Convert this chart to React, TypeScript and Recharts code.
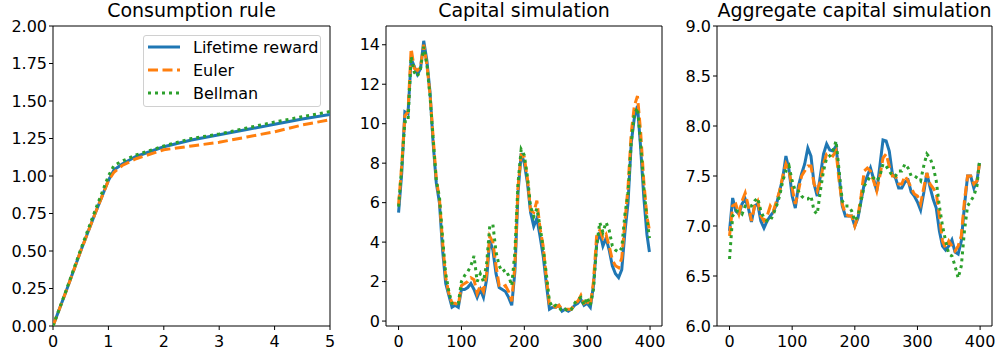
import React from "react";
import { LineChart, Line, XAxis, YAxis, ReferenceArea, Legend } from "recharts";

const FONT = '"DejaVu Sans", sans-serif';
const BLUE = "#1f77b4";
const ORANGE = "#ff7f0e";
const GREEN = "#2ca02c";

// Panel 1: consumption rule
const consX = [0, 0.25, 0.5, 0.75, 1.0, 1.1, 1.25, 1.5, 2, 2.5, 3, 3.5, 4, 4.5, 5];
const consLifetime = [0, 0.245, 0.5, 0.74, 0.97, 1.04, 1.08, 1.13, 1.195, 1.24, 1.275, 1.31, 1.345, 1.38, 1.41];
const consEuler = [0, 0.245, 0.5, 0.74, 0.97, 1.025, 1.07, 1.115, 1.175, 1.2, 1.225, 1.26, 1.295, 1.34, 1.375];
const consBellman = [0, 0.25, 0.51, 0.76, 1.0, 1.07, 1.1, 1.14, 1.2, 1.25, 1.28, 1.32, 1.36, 1.395, 1.43];

// Panels 2 and 3: simulation time steps
const simT = [
  0, 5, 10, 15, 20, 25, 30, 35, 40, 45, 50, 55, 60, 65, 70, 75, 80, 85, 90, 95,
  100, 105, 110, 115, 120, 125, 130, 135, 140, 145, 150, 155, 160, 165, 170, 175, 180, 185, 190, 195,
  200, 205, 210, 215, 220, 225, 230, 235, 240, 245, 250, 255, 260, 265, 270, 275, 280, 285, 290, 295,
  300, 305, 310, 315, 320, 325, 330, 335, 340, 345, 350, 355, 360, 365, 370, 375, 380, 385, 390, 395, 399,
];

const capLifetime = [
  5.5, 7.5, 10.6, 10.5, 13.3, 12.9, 12.5, 12.8, 14.2, 13.2, 11.6, 9.0, 7.0, 6.0, 3.6, 1.9, 1.3, 0.7, 0.8, 0.7,
  1.6, 1.6, 1.7, 1.9, 1.6, 1.2, 1.6, 1.2, 2.1, 4.1, 3.6, 2.4, 1.7, 1.6, 1.5, 1.2, 0.8, 2.5, 6.5, 8.5,
  8.0, 7.0, 5.5, 4.8, 5.2, 4.3, 3.3, 1.9, 0.6, 0.7, 0.7, 0.8, 0.5, 0.6, 0.5, 0.6, 0.8, 0.9, 1.1, 0.8,
  0.9, 0.7, 1.8, 3.9, 4.5, 3.8, 4.2, 3.6, 2.8, 2.4, 2.2, 2.6, 4.5, 6.0, 9.0, 10.3, 10.9, 8.8, 6.3, 4.4, 3.5,
];
const capEuler = [
  5.9, 7.9, 10.4, 10.6, 13.8, 12.8, 12.7, 12.9, 14.0, 13.0, 11.5, 9.3, 7.2, 6.2, 4.0, 2.2, 1.4, 0.9, 0.9, 0.8,
  1.8, 1.9, 2.0, 2.2, 2.1, 1.4, 1.8, 1.5, 2.4, 4.3, 4.0, 2.8, 1.8, 1.7, 1.8, 1.5, 1.0, 2.8, 6.8, 8.4,
  8.3, 7.2, 5.6, 5.5, 6.1, 4.7, 3.8, 2.2, 0.8, 0.8, 0.7, 0.8, 0.6, 0.6, 0.6, 0.6, 0.9, 1.0, 1.3, 0.9,
  1.0, 0.8, 2.0, 4.3, 4.6, 4.2, 4.4, 3.8, 3.1, 2.8, 2.7, 3.2, 5.0, 6.8, 9.5, 10.9, 11.4, 9.6, 7.1, 5.3, 4.6,
];
const capBellman = [
  5.8, 7.8, 10.1, 10.1, 13.4, 12.6, 12.4, 12.8, 13.9, 13.0, 11.4, 9.2, 7.1, 6.3, 4.2, 2.4, 1.5, 0.9, 0.9, 0.9,
  2.0, 2.3, 2.5, 2.8, 3.3, 2.0, 2.4, 2.0, 2.9, 4.8, 4.9, 3.5, 2.8, 2.5, 2.6, 2.3, 1.8, 3.5, 7.0, 8.7,
  8.4, 7.3, 5.8, 5.3, 5.7, 4.8, 3.7, 2.4, 1.0, 0.7, 0.8, 0.7, 0.5, 0.6, 0.5, 0.6, 0.9, 1.1, 1.2, 0.8,
  1.2, 0.8, 1.6, 3.8, 5.0, 4.5, 5.0, 4.6, 3.8, 3.6, 3.5, 3.7, 5.4, 6.5, 9.0, 10.5, 10.8, 9.0, 6.8, 5.2, 4.2,
];

const aggLifetime = [
  6.95, 7.28, 7.15, 7.12, 7.22, 7.27, 7.18, 7.04, 7.2, 7.22, 7.05, 6.98, 7.05, 7.1, 7.14, 7.22, 7.35, 7.48, 7.7, 7.56,
  7.3, 7.18, 7.4, 7.52, 7.62, 7.78, 7.7, 7.42, 7.3, 7.5, 7.72, 7.82, 7.76, 7.75, 7.8, 7.5, 7.2, 7.1, 7.1, 7.1,
  7.0, 7.08, 7.25, 7.42, 7.5, 7.58, 7.47, 7.35, 7.6, 7.86, 7.85, 7.75, 7.52, 7.48, 7.38, 7.38, 7.44, 7.46, 7.34, 7.3,
  7.24, 7.16, 7.33, 7.53, 7.39, 7.27, 7.18, 6.95, 6.8, 6.76, 6.8, 6.86, 6.74, 6.72, 6.85, 7.2, 7.5, 7.5, 7.38, 7.45, 7.63,
];
const aggEuler = [
  6.9, 7.2, 7.22, 7.12, 7.25, 7.33, 7.2, 7.05, 7.2, 7.25, 7.1, 7.05, 7.1, 7.2, 7.15, 7.25, 7.35, 7.5, 7.62, 7.55,
  7.38, 7.22, 7.35, 7.5, 7.55, 7.6, 7.6, 7.42, 7.35, 7.45, 7.62, 7.72, 7.72, 7.7, 7.75, 7.45, 7.22, 7.12, 7.1, 7.1,
  7.0, 7.1, 7.3, 7.55, 7.58, 7.55, 7.45, 7.35, 7.5, 7.68, 7.72, 7.6, 7.5, 7.5, 7.42, 7.42, 7.5, 7.45, 7.38, 7.32,
  7.3, 7.22, 7.38, 7.53, 7.42, 7.38, 7.33, 7.1, 6.85, 6.78, 6.85, 6.8, 6.75, 6.8, 6.9, 7.25, 7.5, 7.5, 7.42, 7.45, 7.62,
];
const aggBellman = [
  6.67, 7.1, 7.15, 7.15, 7.12, 7.2, 7.2, 7.2, 7.25, 7.28, 7.15, 7.08, 7.05, 7.05, 7.12, 7.2, 7.3, 7.45, 7.55, 7.6,
  7.45, 7.35, 7.35, 7.3, 7.27, 7.27, 7.3, 7.15, 7.12, 7.35, 7.55, 7.68, 7.7, 7.75, 7.85, 7.55, 7.25, 7.2, 7.2, 7.15,
  7.05, 7.1, 7.25, 7.4, 7.45, 7.5, 7.48, 7.45, 7.5, 7.62, 7.6, 7.55, 7.5, 7.5, 7.55, 7.55, 7.62, 7.58, 7.5, 7.5,
  7.48, 7.45, 7.6, 7.72, 7.68, 7.6, 7.45, 7.2, 7.0, 6.85, 6.72, 6.7, 6.6, 6.48, 6.6, 6.95, 7.2, 7.25, 7.3, 7.4, 7.65,
];

const seriesNames = ["Lifetime reward", "Euler", "Bellman"];
const titles = ["Consumption rule", "Capital simulation", "Aggregate capital simulation"];

const consTicksX = [0, 1, 2, 3, 4, 5];
const consTicksY = [0, 0.25, 0.5, 0.75, 1.0, 1.25, 1.5, 1.75, 2.0];
const simTicksX = [0, 100, 200, 300, 400];
const capTicksY = [0, 2, 4, 6, 8, 10, 12, 14];
const aggTicksY = [6.0, 6.5, 7.0, 7.5, 8.0, 8.5, 9.0];

const consData = consX.map((x, i) => ({ x, a: consLifetime[i], b: consEuler[i], c: consBellman[i] }));
const capData = simT.map((x, i) => ({ x, a: capLifetime[i], b: capEuler[i], c: capBellman[i] }));
const aggData = simT.map((x, i) => ({ x, a: aggLifetime[i], b: aggEuler[i], c: aggBellman[i] }));

const LW = 3;
const tickStyle = { fontSize: 16, fill: "#000", fontFamily: FONT };

function LegendBox() {
  const rows = [
    { name: seriesNames[0], color: BLUE, dash: undefined },
    { name: seriesNames[1], color: ORANGE, dash: "10 4.5" },
    { name: seriesNames[2], color: GREEN, dash: "3 4" },
  ];
  return (
    <div
      style={{
        width: 178,
        height: 72,
        border: "1px solid #d0d0d0",
        borderRadius: 3,
        background: "rgba(255,255,255,0.8)",
        boxSizing: "border-box",
        fontFamily: FONT,
        fontSize: 16,
        color: "#000",
      }}
    >
      {rows.map((r, i) => (
        <div key={r.name} style={{ position: "absolute", left: 0, top: 2 + i * 23, height: 20, display: "flex", alignItems: "center" }}>
          <svg width={48} height={20} style={{ display: "block" }}>
            <line x1={5} x2={37} y1={10} y2={10} stroke={r.color} strokeWidth={LW} strokeDasharray={r.dash} />
          </svg>
          <span style={{ marginLeft: 2, whiteSpace: "nowrap" }}>{r.name}</span>
        </div>
      ))}
    </div>
  );
}

type PanelProps = {
  left: number;
  width: number;
  marginLeft: number;
  marginRight: number;
  data: any[];
  xDomain: [number, number];
  yDomain: [number, number];
  xTicks: number[];
  yTicks: number[];
  yFmt: (v: number) => string;
  title: string;
  legend?: boolean;
};

function Panel(p: PanelProps) {
  const yAxisW = p.marginLeft;
  const plotW = p.width - p.marginLeft - p.marginRight;
  return (
    <div style={{ position: "absolute", left: p.left, top: 0, width: p.width, height: 352 }}>
      <div
        style={{
          position: "absolute",
          left: p.marginLeft - 60,
          width: plotW + 120,
          top: 1,
          textAlign: "center",
          fontFamily: FONT,
          fontSize: 19,
          lineHeight: "19px",
          color: "#000",
          whiteSpace: "nowrap",
        }}
      >
        {p.title}
      </div>
      <LineChart
        width={p.width}
        height={352}
        data={p.data}
        margin={{ top: 26, right: p.marginRight, bottom: 0, left: 0 }}
      >
        <XAxis
          dataKey="x"
          type="number"
          domain={p.xDomain}
          ticks={p.xTicks}
          interval={0}
          allowDataOverflow
          height={26}
          tickSize={4}
          tickMargin={6}
          tick={tickStyle}
          axisLine={false}
          tickLine={{ stroke: "#000", strokeWidth: 1 }}
        />
        <YAxis
          type="number"
          domain={p.yDomain}
          ticks={p.yTicks}
          interval={0}
          allowDataOverflow
          width={yAxisW}
          tickSize={4}
          tickMargin={2}
          tick={tickStyle}
          tickFormatter={p.yFmt}
          axisLine={false}
          tickLine={{ stroke: "#000", strokeWidth: 1 }}
        />
        <Line type="linear" dataKey="a" name={seriesNames[0]} stroke={BLUE} strokeWidth={LW} dot={false} isAnimationActive={false} />
        <Line type="linear" dataKey="b" name={seriesNames[1]} stroke={ORANGE} strokeWidth={LW} strokeDasharray="10 4.5" dot={false} isAnimationActive={false} />
        <Line type="linear" dataKey="c" name={seriesNames[2]} stroke={GREEN} strokeWidth={LW} strokeDasharray="3 4" dot={false} isAnimationActive={false} />
        <ReferenceArea
          x1={p.xDomain[0]}
          x2={p.xDomain[1]}
          y1={p.yDomain[0]}
          y2={p.yDomain[1]}
          fill="none"
          stroke="#000"
          strokeWidth={1}
          ifOverflow="visible"
        />
        {p.legend && (
          <Legend
            layout="vertical"
            align="center"
            verticalAlign="middle"
            content={() => <LegendBox />}
            wrapperStyle={{ position: "absolute", left: 143, top: 35, width: 178, height: 72, right: "auto", bottom: "auto" }}
          />
        )}
      </LineChart>
    </div>
  );
}

export default function App() {
  return (
    <div style={{ position: "absolute", left: 0, top: 0, width: 995, height: 352, background: "#fff", overflow: "hidden" }}>
      <Panel
        left={0}
        width={340}
        marginLeft={53}
        marginRight={10}
        data={consData}
        xDomain={[0, 5]}
        yDomain={[0, 2]}
        xTicks={consTicksX}
        yTicks={consTicksY}
        yFmt={(v) => v.toFixed(2)}
        title={titles[0]}
        legend
      />
      <Panel
        left={340}
        width={330}
        marginLeft={46}
        marginRight={8}
        data={capData}
        xDomain={[-20, 419]}
        yDomain={[-0.25, 14.95]}
        xTicks={simTicksX}
        yTicks={capTicksY}
        yFmt={(v) => String(v)}
        title={titles[1]}
      />
      <Panel
        left={670}
        width={325}
        marginLeft={47}
        marginRight={3}
        data={aggData}
        xDomain={[-20, 419]}
        yDomain={[6, 9]}
        xTicks={simTicksX}
        yTicks={aggTicksY}
        yFmt={(v) => v.toFixed(1)}
        title={titles[2]}
      />
    </div>
  );
}
